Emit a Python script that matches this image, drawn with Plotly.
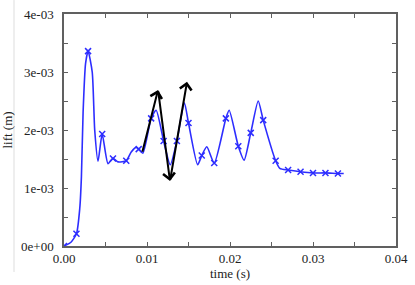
import plotly.graph_objects as go

# lift curve (time in s, lift in m)
curve_t = [0.0000, 0.0008, 0.0015, 0.0019, 0.0021, 0.0023, 0.0026, 0.0029, 0.0034, 0.0037,
           0.0041, 0.0046, 0.0053, 0.0059, 0.0065, 0.0075, 0.0081, 0.0087, 0.0090, 0.0095,
           0.0105, 0.0111, 0.0120, 0.0128, 0.0136, 0.0145, 0.0150, 0.0161, 0.0166, 0.0172,
           0.0181, 0.0195, 0.0199, 0.0210, 0.0217, 0.0225, 0.0234, 0.0240, 0.0255, 0.0260,
           0.0270, 0.0285, 0.0300, 0.0315, 0.0330, 0.0337]
curve_lift = [0.00, 0.06, 0.21, 0.65, 1.20, 2.30, 3.15, 3.36, 3.00, 2.00,
              1.46, 1.93, 1.42, 1.51, 1.45, 1.47, 1.62, 1.70, 1.67, 1.60,
              2.20, 2.34, 1.81, 1.40, 1.81, 2.47, 2.12, 1.40, 1.56, 1.71,
              1.43, 2.20, 2.34, 1.72, 1.48, 1.95, 2.50, 2.17, 1.47, 1.34,
              1.31, 1.28, 1.26, 1.26, 1.25, 1.25]
curve_lift = [v * 1e-3 for v in curve_lift]

# sampled points shown with markers
mark_t = [0.0000, 0.0015, 0.0029, 0.0046, 0.0059, 0.0075, 0.0090, 0.0105, 0.0120, 0.0136,
          0.0150, 0.0166, 0.0181, 0.0195, 0.0210, 0.0225, 0.0240, 0.0255, 0.0270, 0.0285,
          0.0300, 0.0315, 0.0330]
mark_lift = [0.00, 0.21, 3.36, 1.93, 1.51, 1.47, 1.67, 2.20, 1.81, 1.81,
             2.12, 1.56, 1.43, 2.20, 1.72, 1.95, 2.17, 1.47, 1.31, 1.28,
             1.26, 1.26, 1.25]
mark_lift = [v * 1e-3 for v in mark_lift]

# zig-zag arrow path (time, lift)
arrow_t = [0.0094, 0.01133, 0.01277, 0.01482]
arrow_lift = [1.60e-3, 2.69e-3, 1.12e-3, 2.83e-3]

x_ticks = [0.0, 0.01, 0.02, 0.03, 0.04]
x_ticktext = ["0.00", "0.01", "0.02", "0.03", "0.04"]
y_ticks = [0.0, 1e-3, 2e-3, 3e-3, 4e-3]
y_ticktext = ["0e+00", "1e-03", "2e-03", "3e-03", "4e-03"]

blue = "rgb(45,45,255)"
font = "Liberation Serif"

fig = go.Figure()
fig.add_trace(go.Scatter(x=curve_t, y=curve_lift, mode="lines",
                         line=dict(color=blue, width=1.6, shape="spline", smoothing=0.6),
                         hoverinfo="skip", showlegend=False))
fig.add_trace(go.Scatter(x=mark_t, y=mark_lift, mode="markers",
                         marker=dict(symbol="x-thin", size=6, line=dict(color=blue, width=1.5)),
                         showlegend=False))

for i in range(len(arrow_t) - 1):
    fig.add_annotation(x=arrow_t[i + 1], y=arrow_lift[i + 1], ax=arrow_t[i], ay=arrow_lift[i],
                       xref="x", yref="y", axref="x", ayref="y", text="", showarrow=True,
                       arrowhead=4, arrowsize=1.15, arrowwidth=2, arrowcolor="black")

axis_common = dict(showline=True, linecolor="#606060", linewidth=1.5, mirror="allticks",
                   ticks="inside", ticklen=4, tickcolor="#606060", tickwidth=1,
                   showgrid=False, zeroline=False, automargin=False,
                   tickfont=dict(family=font, size=13, color="#222"))

fig.update_xaxes(range=[0, 0.04], tickvals=x_ticks, ticktext=x_ticktext, ticklabelstandoff=0,
                 minor=dict(ticks="inside", dtick=0.005, ticklen=4, tickcolor="#606060", showgrid=False),
                 title=dict(text="time (s)", font=dict(family=font, size=13, color="#222"), standoff=0),
                 **axis_common)
fig.update_yaxes(range=[0, 0.004], tickvals=y_ticks, ticktext=y_ticktext, ticklabelstandoff=6,
                 minor=dict(ticks="inside", dtick=0.0005, ticklen=4, tickcolor="#606060", showgrid=False),
                 title=dict(text="lift (m)", font=dict(family=font, size=13, color="#222"), standoff=6),
                 **axis_common)

fig.add_shape(type="line", xref="paper", yref="paper", x0=-0.1506, x1=-0.1506, y0=-0.112, y1=1.06,
              line=dict(color="#dddddd", width=1))

fig.update_layout(width=415, height=285, margin=dict(l=64, r=19, t=14, b=39),
                  paper_bgcolor="white", plot_bgcolor="white", showlegend=False)

fig.write_html("out.html", config={"displayModeBar": False},
               post_script="document.body.style.margin='0';document.body.style.overflow='hidden';")
